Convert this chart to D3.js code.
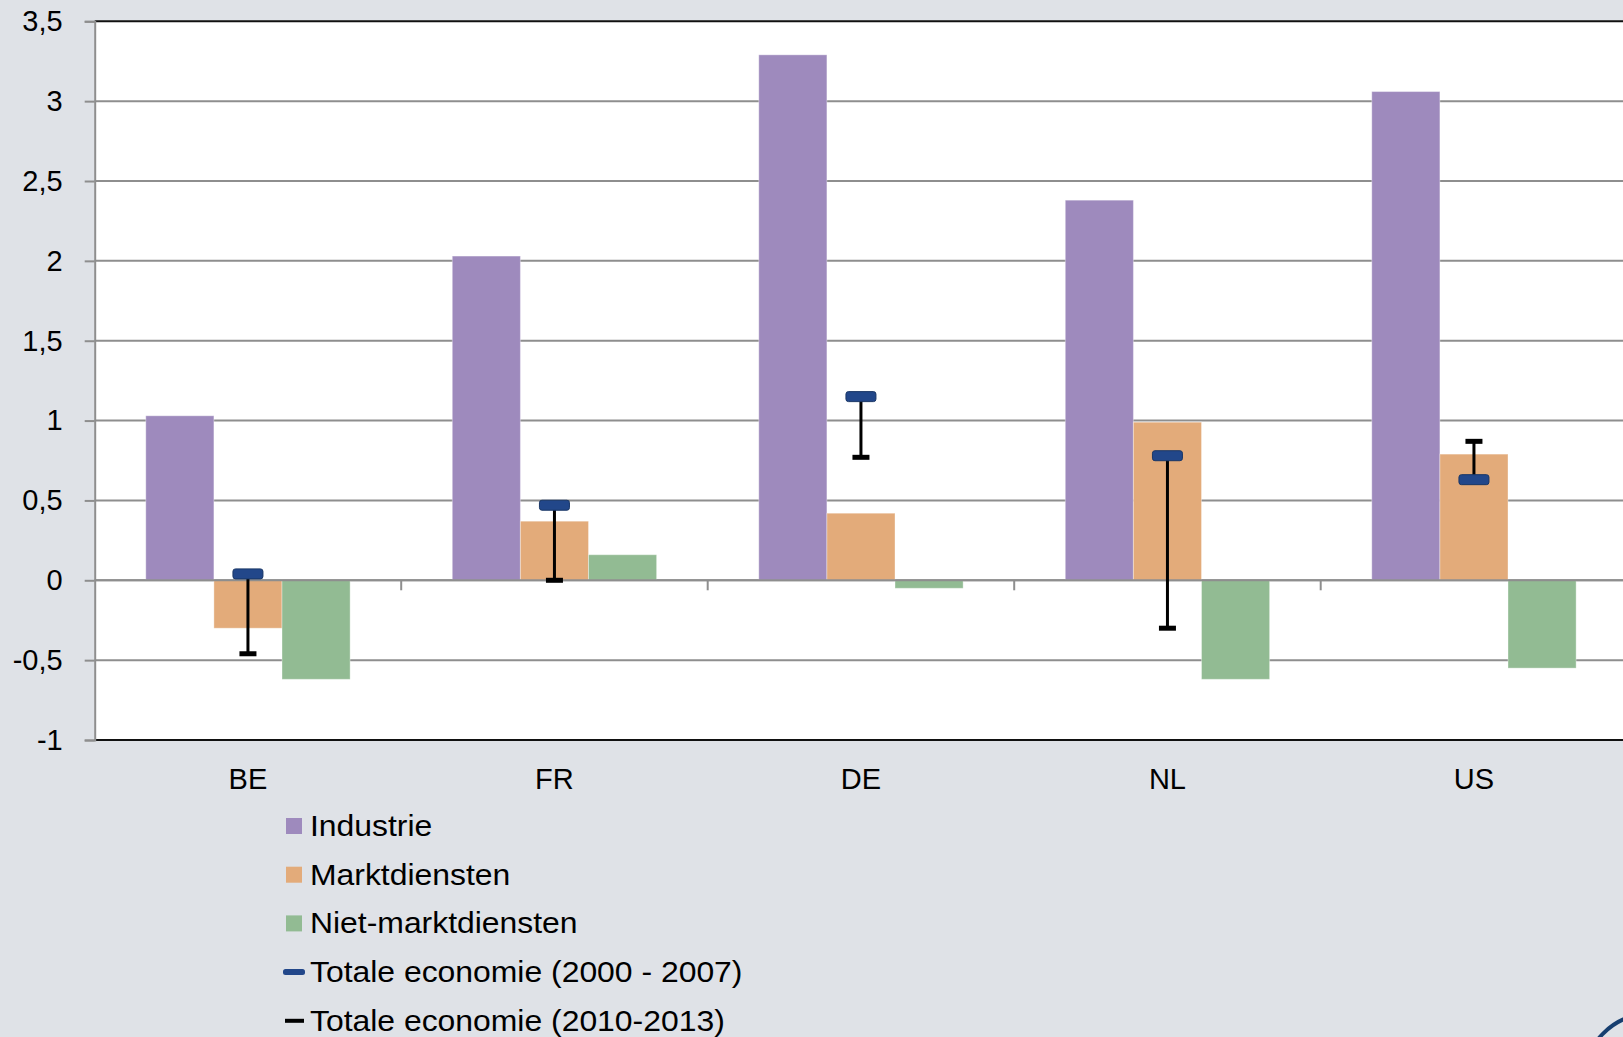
<!DOCTYPE html>
<html>
<head>
<meta charset="utf-8">
<script src="https://cdn.jsdelivr.net/npm/d3@7"></script>
<style>
  body { margin: 0; background: #dfe2e7; }
  text { font-family: "Liberation Sans", Arial, sans-serif; fill: #000; }
</style>
</head>
<body>
<div id="chart"></div>
<script>
// chart values
const categories = ["BE", "FR", "DE", "NL", "US"];
const seriesNames = ["Industrie", "Marktdiensten", "Niet-marktdiensten"];
const industrie = [1.03, 2.03, 3.29, 2.38, 3.06];
const marktdiensten = [-0.30, 0.37, 0.42, 0.99, 0.79];
const nietMarktdiensten = [-0.62, 0.16, -0.05, -0.62, -0.55];
const totaal0007 = [0.04, 0.47, 1.15, 0.78, 0.63];
const totaal1013 = [-0.46, 0.00, 0.77, -0.30, 0.87];
const yTicks = [-1, -0.5, 0, 0.5, 1, 1.5, 2, 2.5, 3, 3.5];
const legendLabels = ["Industrie", "Marktdiensten", "Niet-marktdiensten",
  "Totale economie (2000 - 2007)", "Totale economie (2010-2013)"];

const width = 1623;
const height = 1037;
const plotLeft = 94.7, plotTop = 21.3, plotBottom = 740;
const groupW = 306.5;

const colors = ["#9e8abd", "#e3ab7a", "#92bb93"];
const blue = "#22478a";

const svg = d3.select("#chart")
  .append("svg")
  .attr("width", width)
  .attr("height", height);

svg.append("rect").attr("width", width).attr("height", height).attr("fill", "#dfe2e7");

// scales
const y = d3.scaleLinear().domain([-1, 3.5]).range([plotBottom, plotTop]);
const x0 = d3.scaleBand().domain(categories).range([plotLeft, plotLeft + groupW * categories.length]);
const x1 = d3.scaleBand().domain(seriesNames).range([0, x0.bandwidth()]).paddingOuter(0.75);
const color = d3.scaleOrdinal().domain(seriesNames).range(colors);

// plot area
svg.append("rect")
  .attr("x", plotLeft).attr("y", plotTop)
  .attr("width", width - plotLeft).attr("height", plotBottom - plotTop)
  .attr("fill", "#fff");

// gridlines
svg.append("g")
  .selectAll("line")
  .data(yTicks.filter(d => d > -1 && d < 3.5))
  .join("line")
  .attr("x1", plotLeft).attr("x2", width)
  .attr("y1", d => y(d)).attr("y2", d => y(d))
  .attr("stroke", "#8e8e8e")
  .attr("stroke-width", 2);

// top and bottom border
svg.append("g")
  .selectAll("line")
  .data([3.5, -1])
  .join("line")
  .attr("x1", plotLeft).attr("x2", width)
  .attr("y1", d => y(d)).attr("y2", d => y(d))
  .attr("stroke", "#111")
  .attr("stroke-width", 2);

// bars
const rows = categories.map((c, i) => ({
  cat: c,
  vals: [industrie[i], marktdiensten[i], nietMarktdiensten[i]]
}));

const groups = svg.append("g")
  .selectAll("g")
  .data(rows)
  .join("g")
  .attr("transform", d => `translate(${x0(d.cat)},0)`);

groups.selectAll("rect")
  .data(d => d.vals.map((v, j) => ({ name: seriesNames[j], v: v })))
  .join("rect")
  .attr("x", d => x1(d.name))
  .attr("width", x1.bandwidth())
  .attr("y", d => y(Math.max(0, d.v)))
  .attr("height", d => Math.abs(y(d.v) - y(0)))
  .attr("fill", d => color(d.name))
  .attr("stroke", "rgba(255,255,255,0.35)")
  .attr("stroke-width", 1);

// zero line with category ticks
svg.append("line")
  .attr("x1", plotLeft).attr("x2", width)
  .attr("y1", y(0)).attr("y2", y(0))
  .attr("stroke", "#8e8e8e").attr("stroke-width", 2);

svg.append("g")
  .selectAll("line")
  .data(categories.slice(1))
  .join("line")
  .attr("x1", d => x0(d)).attr("x2", d => x0(d))
  .attr("y1", y(0)).attr("y2", y(0) + 10)
  .attr("stroke", "#8e8e8e").attr("stroke-width", 2);

// y axis
const yAxis = svg.append("g")
  .attr("transform", `translate(${plotLeft},0)`)
  .call(d3.axisLeft(y).tickValues(yTicks).tickSize(10).tickPadding(22)
    .tickFormat(d => String(d).replace(".", ",")));
yAxis.select(".domain").attr("stroke", "#8e8e8e").attr("stroke-width", 2);
yAxis.selectAll(".tick line").attr("stroke", "#8e8e8e").attr("stroke-width", 2);
yAxis.selectAll(".tick text")
  .attr("font-size", "29px")
  .attr("font-family", "Liberation Sans, Arial, sans-serif")
  .attr("fill", "#000");

// category labels
svg.append("g")
  .selectAll("text")
  .data(categories)
  .join("text")
  .attr("x", d => x0(d) + x0.bandwidth() / 2)
  .attr("y", 789)
  .attr("text-anchor", "middle")
  .attr("font-size", "29px")
  .text(d => d);

// total economy: connecting line + markers
const mx = d => x0(d) + x0.bandwidth() / 2;

svg.append("g")
  .selectAll("line")
  .data(categories)
  .join("line")
  .attr("x1", mx).attr("x2", mx)
  .attr("y1", (d, i) => y(totaal0007[i]))
  .attr("y2", (d, i) => y(totaal1013[i]))
  .attr("stroke", "#000")
  .attr("stroke-width", 3);

svg.append("g")
  .selectAll("rect")
  .data(categories)
  .join("rect")
  .attr("x", d => mx(d) - 8.5)
  .attr("y", (d, i) => y(totaal1013[i]) - 2.5)
  .attr("width", 17).attr("height", 5)
  .attr("fill", "#000");

svg.append("g")
  .selectAll("rect")
  .data(categories)
  .join("rect")
  .attr("x", d => mx(d) - 15)
  .attr("y", (d, i) => y(totaal0007[i]) - 5)
  .attr("width", 30).attr("height", 10)
  .attr("rx", 2.5)
  .attr("fill", blue)
  .attr("stroke", "#1a3766")
  .attr("stroke-width", 1);

// legend
const legend = svg.append("g")
  .selectAll("g")
  .data(legendLabels)
  .join("g")
  .attr("transform", (d, i) => `translate(286, ${826 + i * 48.7})`);

legend.filter((d, i) => i < 3)
  .append("rect")
  .attr("x", 0).attr("y", -8)
  .attr("width", 16).attr("height", 16)
  .attr("fill", (d, i) => colors[i]);

legend.filter((d, i) => i === 3)
  .append("rect")
  .attr("x", -3).attr("y", -3)
  .attr("width", 22).attr("height", 6)
  .attr("rx", 2.5)
  .attr("fill", blue);

legend.filter((d, i) => i === 4)
  .append("rect")
  .attr("x", -1).attr("y", -2)
  .attr("width", 19).attr("height", 4)
  .attr("fill", "#000");

// legend text is a bit wider in the original
legend.append("text")
  .attr("transform", "translate(24,10) scale(1.1,1)")
  .attr("font-size", "29px")
  .text(d => d);

// corner logo arc
svg.append("circle")
  .attr("cx", 1650).attr("cy", 1080).attr("r", 66)
  .attr("fill", "none")
  .attr("stroke", "#173f70")
  .attr("stroke-width", 4);
</script>
</body>
</html>
